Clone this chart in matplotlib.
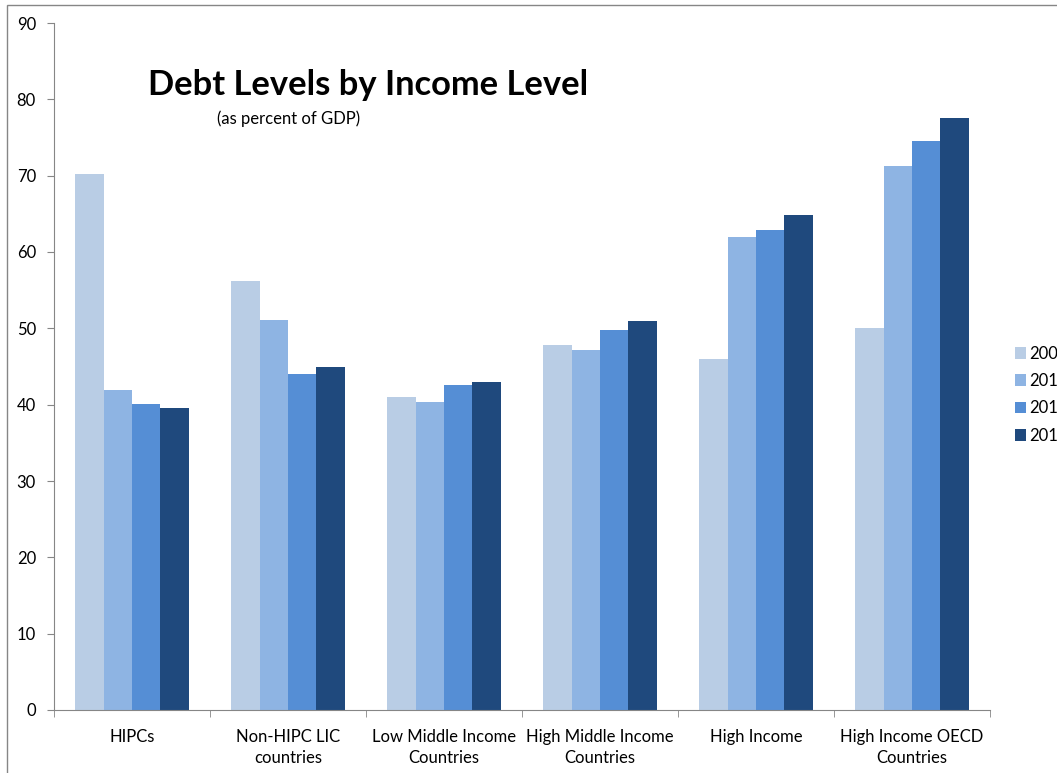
import matplotlib
matplotlib.use("Agg")
import matplotlib.pyplot as plt
import numpy as np
from matplotlib.patches import Rectangle

categories = ["HIPCs", "Non-HIPC LIC\ncountries", "Low Middle Income\nCountries",
              "High Middle Income\nCountries", "High Income", "High Income OECD\nCountries"]
years = ["2007", "2011", "2012", "2013"]
debt_2007 = [70.2, 56.2, 41.0, 47.8, 46.0, 50.1]
debt_2011 = [41.9, 51.1, 40.4, 47.2, 62.0, 71.3]
debt_2012 = [40.1, 44.0, 42.6, 49.8, 62.9, 74.5]
debt_2013 = [39.6, 44.9, 43.0, 51.0, 64.9, 77.6]
series = [debt_2007, debt_2011, debt_2012, debt_2013]
colors = ["#B9CDE5", "#8EB4E3", "#558ED5", "#1F497D"]

plt.rcParams["font.family"] = ["Lato", "DejaVu Sans"]
W, H = 1057, 773
fig = plt.figure(figsize=(W / 100, H / 100), dpi=100)
ax = fig.add_axes([54 / W, 1 - 710 / H, (990 - 54) / W, (710 - 23) / H])

x = np.arange(len(categories))
group = 0.73
bw = group / len(series)
for i, (vals, c, yr) in enumerate(zip(series, colors, years)):
    ax.bar(x - group / 2 + bw * (i + 0.5), vals, width=bw, color=c, label=yr,
           edgecolor="none", zorder=2)

ax.set_xlim(-0.5, len(categories) - 0.5)
ax.set_ylim(0, 90)
ax.set_yticks(np.arange(0, 91, 10))
ax.set_xticks(x)
ax.set_xticklabels(categories, fontsize=12, linespacing=1.35)
ax.set_xticks(np.arange(-0.5, len(categories), 1.0), minor=True)
ax.tick_params(axis="x", which="major", length=0, pad=14)
ax.tick_params(axis="x", which="minor", length=5, color="#868686", direction="out")
ax.tick_params(axis="y", length=5, color="#868686", labelsize=12, pad=8)
for s in ["top", "right"]:
    ax.spines[s].set_visible(False)
for s in ["left", "bottom"]:
    ax.spines[s].set_color("#868686")

fig.text(148 / W, 1 - 85 / H, "Debt Levels by Income Level", fontsize=24.8,
         fontweight="bold", va="center", ha="left")
fig.text(217 / W, 1 - 119 / H, "(as percent of GDP)", fontsize=12,
         va="center", ha="left")

# legend runs off the right edge, as in the original
handles, labels = ax.get_legend_handles_labels()
fig.legend(handles, labels, loc="upper left", bbox_to_anchor=(1008 / W, 1 - 339 / H),
           frameon=False, fontsize=12, handlelength=0.7, handleheight=0.7,
           handletextpad=0.2, labelspacing=0.68, borderaxespad=0)

fig.patches.append(Rectangle((7 / W, -0.05), 1.0, 1 - 5 / H + 0.05,
                             transform=fig.transFigure, fill=False,
                             edgecolor="#868686", linewidth=1))

fig.savefig("out.png", dpi=100)
